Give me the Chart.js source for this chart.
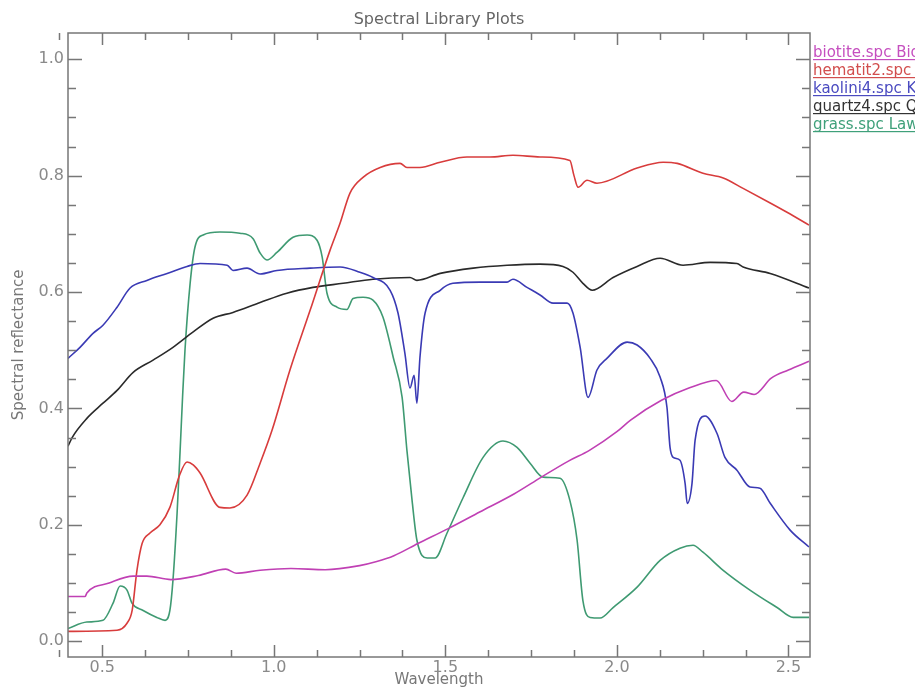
<!DOCTYPE html>
<html>
<head>
<meta charset="UTF-8">
<script src="https://cdn.jsdelivr.net/npm/chart.js"></script>
<style>
  html, body { margin: 0; padding: 0; background: #fff; }
  #wrap { width: 915px; height: 687px; }
</style>
</head>
<body>
<div id="wrap"><canvas id="spectra"></canvas></div>
<script>
// wavelength (x) and reflectance (y), one pair per sample
const biotiteX = [0.40,0.45,0.455,0.52,0.59,0.63,0.70,0.78,0.86,0.89,0.96,1.05,1.15,1.25,1.30,1.35,1.42,1.51,1.60,1.70,1.78,1.86,1.92,2.00,2.04,2.13,2.21,2.29,2.335,2.37,2.40,2.45,2.50,2.56];
const biotiteY = [0.077,0.077,0.083,0.100,0.112,0.112,0.106,0.113,0.124,0.117,0.122,0.125,0.123,0.130,0.137,0.147,0.168,0.194,0.222,0.253,0.282,0.310,0.328,0.360,0.380,0.414,0.435,0.448,0.412,0.428,0.424,0.452,0.466,0.481];

const hematiteX = [0.40,0.543,0.572,0.587,0.601,0.616,0.639,0.668,0.697,0.725,0.747,0.765,0.785,0.843,0.872,0.922,0.96,0.995,1.047,1.106,1.164,1.193,1.222,1.26,1.31,1.368,1.388,1.426,1.485,1.563,1.63,1.697,1.776,1.863,1.875,1.887,1.913,1.942,2.059,2.135,2.176,2.251,2.31,2.368,2.447,2.496,2.56];
const hematiteY = [0.017,0.019,0.031,0.053,0.122,0.168,0.186,0.200,0.230,0.285,0.308,0.303,0.289,0.230,0.229,0.251,0.306,0.363,0.466,0.569,0.672,0.718,0.770,0.797,0.814,0.821,0.814,0.814,0.823,0.832,0.832,0.835,0.832,0.826,0.800,0.780,0.792,0.787,0.813,0.823,0.821,0.804,0.796,0.778,0.753,0.737,0.715];

const kaoliniteX = [0.40,0.435,0.473,0.502,0.543,0.581,0.63,0.689,0.747,0.785,0.864,0.881,0.922,0.96,1.009,1.106,1.193,1.251,1.289,1.339,1.362,1.382,1.397,1.409,1.417,1.426,1.441,1.485,1.522,1.601,1.68,1.697,1.738,1.776,1.814,1.855,1.872,1.893,1.916,1.942,1.971,2.03,2.059,2.097,2.126,2.146,2.155,2.164,2.184,2.199,2.205,2.219,2.228,2.257,2.292,2.315,2.35,2.388,2.417,2.447,2.505,2.56];
const kaoliniteY = [0.486,0.505,0.529,0.543,0.574,0.607,0.620,0.632,0.644,0.649,0.646,0.637,0.641,0.631,0.637,0.641,0.643,0.634,0.625,0.603,0.564,0.495,0.435,0.457,0.409,0.488,0.564,0.603,0.615,0.617,0.617,0.622,0.608,0.595,0.581,0.581,0.564,0.505,0.419,0.466,0.486,0.514,0.509,0.486,0.454,0.402,0.333,0.316,0.311,0.271,0.237,0.271,0.345,0.387,0.357,0.316,0.294,0.265,0.263,0.237,0.191,0.162];

const quartzX = [0.40,0.412,0.455,0.502,0.543,0.59,0.648,0.706,0.764,0.823,0.881,0.96,1.038,1.114,1.202,1.289,1.397,1.417,1.485,1.581,1.68,1.776,1.843,1.872,1.901,1.928,1.989,2.059,2.126,2.193,2.272,2.35,2.368,2.447,2.56];
const quartzY = [0.335,0.350,0.383,0.409,0.431,0.462,0.483,0.505,0.531,0.555,0.565,0.582,0.598,0.608,0.615,0.622,0.625,0.620,0.632,0.641,0.646,0.648,0.644,0.634,0.615,0.603,0.625,0.644,0.658,0.646,0.651,0.649,0.643,0.632,0.607];

const grassX = [0.40,0.455,0.502,0.531,0.552,0.572,0.587,0.619,0.659,0.683,0.697,0.706,0.718,0.727,0.734,0.741,0.756,0.77,0.794,0.843,0.901,0.939,0.96,0.98,1.009,1.056,1.097,1.126,1.141,1.155,1.184,1.213,1.231,1.26,1.289,1.318,1.348,1.374,1.388,1.403,1.417,1.447,1.47,1.505,1.552,1.61,1.668,1.709,1.747,1.785,1.834,1.863,1.884,1.901,1.922,1.951,1.989,2.059,2.126,2.184,2.222,2.251,2.31,2.388,2.467,2.514,2.56];
const grassY = [0.022,0.033,0.036,0.065,0.095,0.088,0.065,0.053,0.041,0.036,0.053,0.105,0.220,0.330,0.420,0.500,0.615,0.677,0.698,0.703,0.701,0.692,0.667,0.655,0.668,0.694,0.698,0.689,0.660,0.598,0.574,0.570,0.589,0.591,0.586,0.557,0.488,0.419,0.328,0.242,0.174,0.143,0.143,0.186,0.247,0.316,0.344,0.333,0.306,0.282,0.280,0.242,0.174,0.070,0.041,0.040,0.058,0.093,0.139,0.160,0.165,0.153,0.122,0.088,0.058,0.041,0.041];

const seriesNames = ['biotite.spc Biotite', 'hematit2.spc Hematite', 'kaolini4.spc Kaolinite', 'quartz4.spc Quartz', 'grass.spc Lawn Grass'];
const xTicks = [0.5, 1.0, 1.5, 2.0, 2.5];
const yTicks = [0.0, 0.2, 0.4, 0.6, 0.8, 1.0];

const lineColors = ['#c040b4', '#d83c3c', '#3a3ab4', '#2a2a2a', '#3f9a72'];
const legendColors = ['#c54fbf', '#d24e4e', '#4a4ac0', '#333333', '#3fa07a'];

function pairs(xs, ys) {
    return xs.map((x, i) => ({ x: x, y: ys[i] }));
}

const seriesData = [
    pairs(biotiteX, biotiteY),
    pairs(hematiteX, hematiteY),
    pairs(kaoliniteX, kaoliniteY),
    pairs(quartzX, quartzY),
    pairs(grassX, grassY)
];

// frame, inward ticks, labels, title and legend in the IDL style
const idlFrame = {
    id: 'idlFrame',
    afterDraw(chart) {
        const ctx = chart.ctx;
        const a = chart.chartArea;
        const xs = chart.scales.x, ys = chart.scales.y;
        ctx.save();
        ctx.strokeStyle = '#777';
        ctx.lineWidth = 1.5;
        ctx.strokeRect(a.left, a.top, a.right - a.left, a.bottom - a.top);

        ctx.beginPath();
        // x ticks every 0.125, major every 0.5
        for (let v = 0.5 - 0.125; v <= 2.56; v += 0.125) {
            const px = Math.round(xs.getPixelForValue(v)) + 0.5;
            const major = Math.abs(v / 0.5 - Math.round(v / 0.5)) < 1e-6;
            const len = major ? 12 : 7;
            ctx.moveTo(px, a.bottom); ctx.lineTo(px, a.bottom - len);
            ctx.moveTo(px, a.top); ctx.lineTo(px, a.top + len);
        }
        // y ticks every 0.05, major every 0.2
        for (let v = 0; v <= 1.04; v += 0.05) {
            const py = Math.round(ys.getPixelForValue(v)) + 0.5;
            const major = Math.abs(v / 0.2 - Math.round(v / 0.2)) < 1e-6;
            const len = major ? 14 : 8;
            ctx.moveTo(a.left, py); ctx.lineTo(a.left + len, py);
            ctx.moveTo(a.right, py); ctx.lineTo(a.right - len, py);
        }
        ctx.stroke();

        ctx.fillStyle = '#8a8a8a';
        ctx.font = '16px "DejaVu Sans"';
        ctx.textAlign = 'center';
        ctx.textBaseline = 'top';
        xTicks.forEach(v => {
            ctx.fillText(v.toFixed(1), xs.getPixelForValue(v), a.bottom + 3);
        });
        ctx.textAlign = 'right';
        ctx.textBaseline = 'middle';
        yTicks.forEach(v => {
            ctx.fillText(v.toFixed(1), a.left - 4, ys.getPixelForValue(v));
        });

        ctx.font = '15px "DejaVu Sans"';
        ctx.fillStyle = '#777';
        ctx.textAlign = 'center';
        ctx.textBaseline = 'top';
        ctx.fillText('Wavelength', (a.left + a.right) / 2, a.bottom + 16);

        ctx.save();
        ctx.translate(19, (a.top + a.bottom) / 2);
        ctx.rotate(-Math.PI / 2);
        ctx.textBaseline = 'middle';
        ctx.fillText('Spectral reflectance', 0, 0);
        ctx.restore();

        ctx.font = '16px "DejaVu Sans"';
        ctx.fillStyle = '#666';
        ctx.textBaseline = 'middle';
        ctx.fillText('Spectral Library Plots', (a.left + a.right) / 2, 20);

        // legend, clipped by the right edge like the original
        ctx.font = '15px "DejaVu Sans"';
        ctx.textAlign = 'left';
        ctx.textBaseline = 'alphabetic';
        seriesNames.forEach((name, i) => {
            const y = 57 + i * 18;
            ctx.fillStyle = legendColors[i];
            ctx.fillText(name, a.right + 3, y);
            const w = ctx.measureText(name).width;
            ctx.fillRect(a.right + 3, y + 2, w, 1.2);
        });
        ctx.restore();
    }
};

new Chart(document.getElementById('spectra'), {
    type: 'line',
    data: {
        datasets: seriesData.map((d, i) => ({
            label: seriesNames[i],
            data: d,
            borderColor: lineColors[i],
            borderWidth: 1.6,
            pointRadius: 0,
            cubicInterpolationMode: 'monotone',
            fill: false
        }))
    },
    options: {
        responsive: true,
        maintainAspectRatio: false,
        animation: false,
        layout: { padding: { left: 68, top: 33, right: 105, bottom: 30 } },
        plugins: {
            legend: { display: false },
            title: { display: false },
            tooltip: { enabled: false }
        },
        scales: {
            x: { type: 'linear', min: 0.4, max: 2.563, display: false },
            y: { type: 'linear', min: -0.027, max: 1.045, display: false }
        }
    },
    plugins: [idlFrame]
});
</script>
</body>
</html>
